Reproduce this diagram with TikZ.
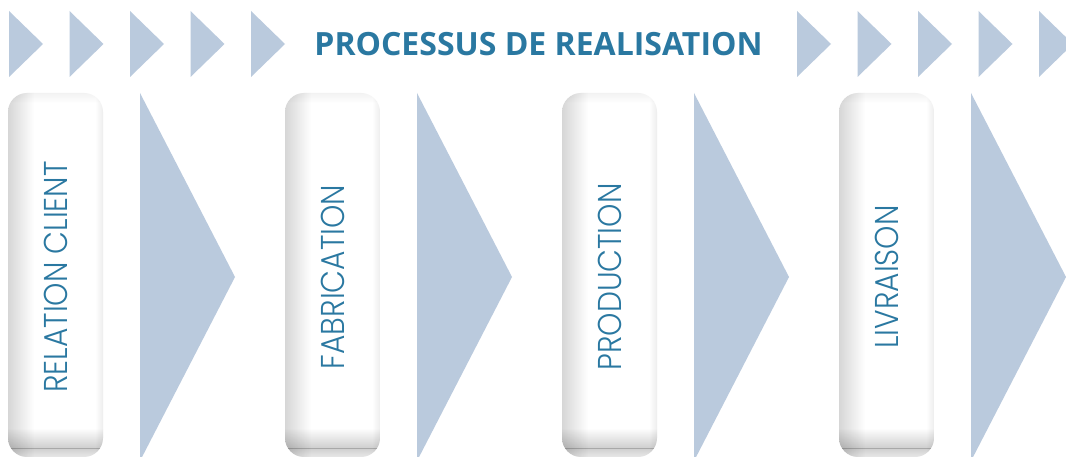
\documentclass[tikz,border=0pt]{standalone}
\usepackage{fontspec}
\newfontfamily\titlefont{Open Sans}
\newfontfamily\labfont{Poppins Light}
\definecolor{tri}{HTML}{BACADD}
\definecolor{ink}{HTML}{2A78A1}
\tikzset{
  smalltri/.style={fill=tri},
  bigtri/.style={fill=tri},
  steplabel/.style={rotate=90, inner sep=0pt, text=ink, font=\labfont\fontsize{33}{33}\selectfont},
}
\newcommand{\stepbox}[3]{%
  % #1 left x, #2 name, #3 text
  \begin{scope}
    \fill[white] (#1,93) [rounded corners=19pt] rectangle ++(95,364);
    \clip (#1,93) [rounded corners=19pt] rectangle ++(95,364);
    \begin{scope}[blend mode=multiply]
      \shade[left color=black!16, right color=white] (#1,93) rectangle ++(26,364);
      \shade[left color=white, right color=black!7] (#1+87,93) rectangle ++(8,364);
      \shade[top color=white, bottom color=black!19] (#1,428) rectangle ++(95,20);
      \shade[top color=black!19, bottom color=black!9] (#1,448) rectangle ++(95,9);
      \shade[top color=black!5, bottom color=white] (#1,93) rectangle ++(95,10);
    \end{scope}
  \end{scope}
  \node[steplabel] (#2) at (#1+48,277) {\scalebox{0.9}[1]{#3}};
}
\begin{document}
\begin{tikzpicture}[x=1pt,y=-1pt]
  \useasboundingbox (0,0) rectangle (1066,457);
  \clip (0,0) rectangle (1066,457);
  \fill[white] (0,0) rectangle (1066,457);
  % small chevrons
  \foreach \x in {9,69.5,130,190.5,251,797,857.5,918,978.5,1039}{
    \fill[smalltri] (\x,11) -- (\x+34,44) -- (\x,77) -- cycle;
  }
  \node[inner sep=0pt, text=ink, font=\titlefont\bfseries\fontsize{32}{32}\selectfont] (title) at (538.5,44) {PROCESSUS DE REALISATION};
  % big triangles
  \foreach \x in {140,417,694,971}{
    \fill[bigtri] (\x,93) -- (\x+95,277) -- (\x,461) -- cycle;
  }
  \stepbox{8}{s1}{RELATION CLIENT}
  \stepbox{285}{s2}{FABRICATION}
  \stepbox{562}{s3}{PRODUCTION}
  \stepbox{839}{s4}{LIVRAISON}
\end{tikzpicture}
\end{document}
